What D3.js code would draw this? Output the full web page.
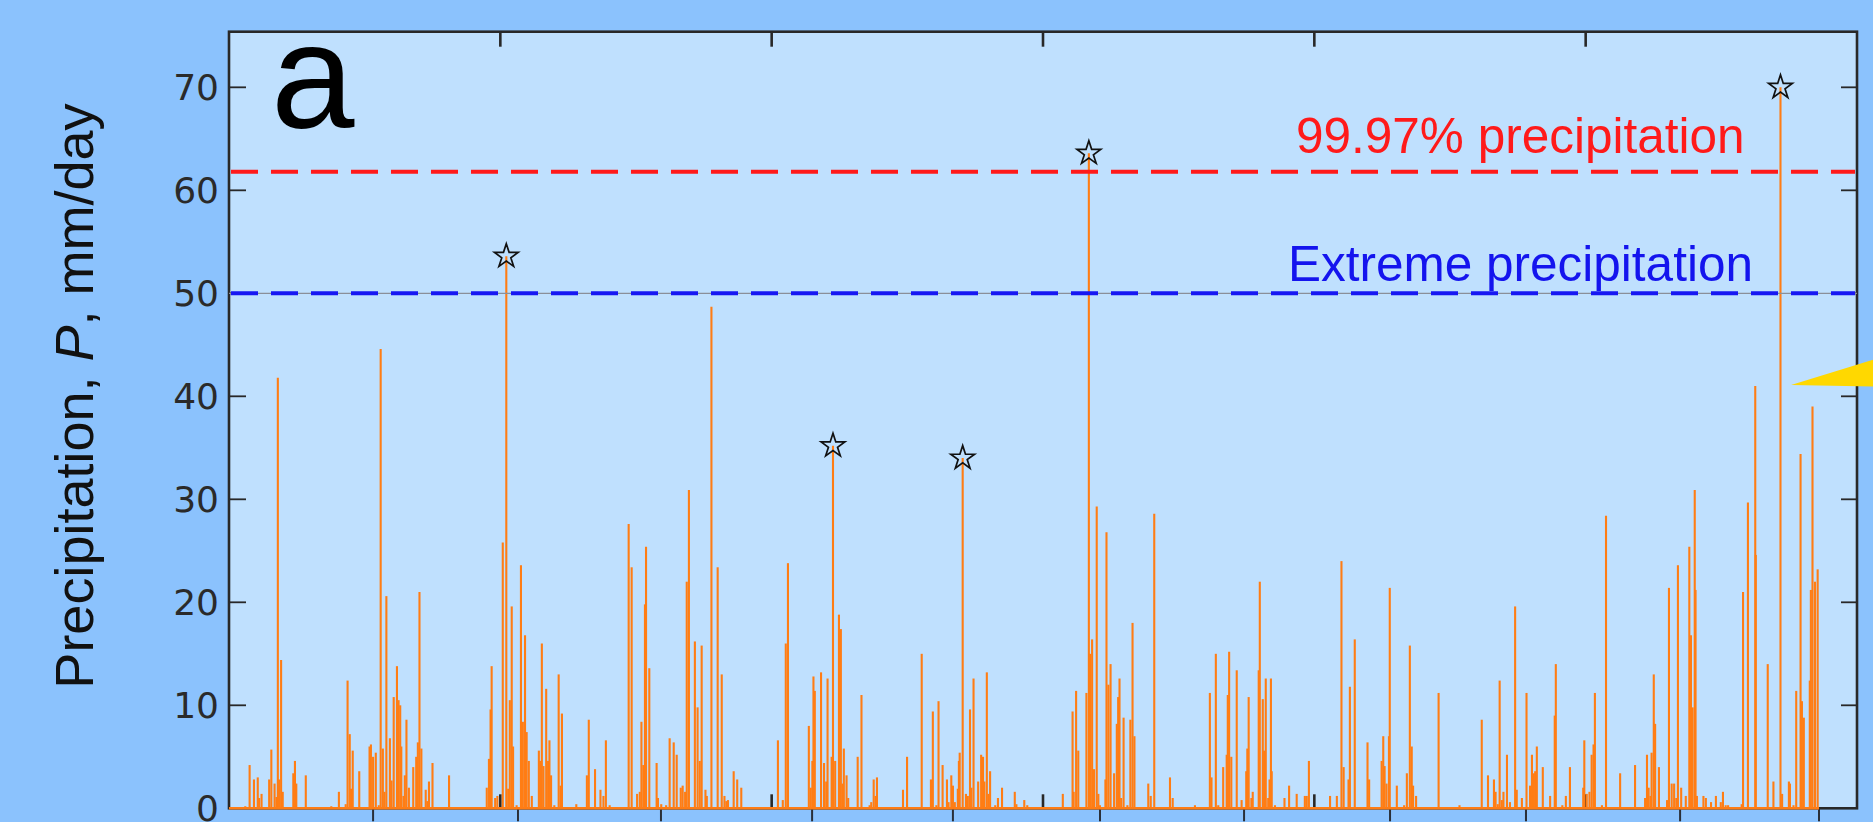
<!DOCTYPE html>
<html>
<head>
<meta charset="utf-8">
<script src="https://cdn.jsdelivr.net/npm/d3@7"></script>
<style>
  html, body { margin: 0; padding: 0; background: #8bc2fd; overflow: hidden; }
  svg { display: block; }
</style>
</head>
<body>
<svg id="chart" width="1873" height="822"></svg>
<script>
// ---- data -----------------------------------------------------------------
// y-axis ticks (mm/day)
const yTicks = [0, 10, 20, 30, 40, 50, 60, 70];
// evenly spaced ticks on the top/bottom frame (time-step units)
const frameTicks = [100, 200, 300, 400, 500];
// calendar ticks below the time axis (time-step units)
const dateTicks = [53.1, 106.5, 159.2, 214.9, 266.8, 321.0, 374.1, 427.9, 478.0, 534.8, 586.0];
// thresholds (mm/day)
const extremeLevel = 50;
const percentileLevel = 61.8;
// record length in time-step units
const recordStart = 0;
const recordEnd = 586;
// events flagged with a star (time-step units)
const starredTimes = [102.2, 222.6, 270.4, 316.9, 571.8];

// precipitation events: [time step, P in mm/day]
const precipitation = [
  [6.0,0.2],[7.6,4.2],[9.2,2.8],[10.6,3.0],[11.1,1.0],[12.0,1.4],[14.8,2.8],[15.6,5.7],[16.8,2.4],[17.5,1.1],
  [18.0,41.8],[18.4,2.8],[19.2,14.4],[19.8,1.6],[23.7,3.4],[24.3,4.6],[24.8,2.4],[28.3,3.2],[37.7,0.2],[40.5,1.6],
  [43.0,0.4],[43.7,12.4],[44.5,7.2],[45.0,1.9],[45.6,5.6],[48.0,3.6],[51.8,6.0],[52.3,6.2],[53.1,5.0],[54.1,5.4],
  [55.2,0.3],[55.9,44.6],[56.7,5.8],[57.3,1.6],[58.0,20.6],[59.3,6.8],[59.9,2.7],[60.7,10.8],[61.9,13.8],[62.5,10.5],
  [63.1,10.0],[63.5,6.0],[64.3,1.2],[64.8,3.2],[65.4,8.6],[66.3,2.0],[67.9,4.0],[69.0,5.0],[69.6,6.4],[70.2,21.0],
  [70.9,5.8],[72.5,1.8],[73.1,0.7],[73.7,2.6],[75.0,4.4],[81.1,3.2],[95.0,2.0],[95.8,4.8],[96.4,9.6],[96.8,13.8],
  [98.1,1.0],[98.9,1.2],[100.9,25.8],[102.2,53.6],[102.9,1.9],[103.5,10.5],[104.2,19.6],[104.7,6.0],[106.0,0.3],[107.6,23.6],
  [108.3,8.4],[109.1,16.8],[109.7,7.4],[110.5,4.6],[111.6,1.2],[114.2,5.6],[114.7,4.6],[115.3,16.0],[115.9,4.1],[116.9,11.6],
  [117.6,4.6],[118.1,6.6],[118.7,3.2],[119.9,0.3],[121.5,13.0],[122.2,2.2],[122.7,9.2],[128.0,0.4],[131.9,3.2],[132.6,8.6],
  [134.9,3.8],[136.9,1.8],[138.0,1.2],[138.9,6.6],[140.3,0.3],[147.3,27.6],[148.4,23.4],[150.4,1.4],[151.4,1.6],[152.0,8.4],
  [152.7,4.2],[153.3,19.8],[153.7,25.4],[154.9,13.6],[157.6,4.4],[158.1,1.0],[159.3,0.4],[161.1,0.3],[162.4,6.8],[163.9,6.4],
  [165.0,5.2],[166.5,2.0],[167.2,2.2],[168.1,1.6],[168.7,22.0],[169.5,30.9],[171.7,16.2],[172.7,9.8],[173.5,4.6],[174.2,15.8],
  [175.6,1.8],[176.1,1.2],[177.8,48.7],[180.1,23.4],[181.6,13.0],[182.6,1.2],[183.3,0.7],[183.9,0.8],[186.0,3.6],[187.3,2.8],
  [188.8,2.0],
  [202.3,6.6],[204.1,0.8],[205.2,16.0],[206.0,23.8],[213.7,8.0],[214.4,2.0],[215.0,4.6],[215.4,12.8],[215.9,11.4],[218.2,13.2],
  [219.3,4.4],[220.1,2.6],[220.6,12.6],[222.1,5.0],[222.6,35.2],[223.4,4.6],[224.8,18.8],[225.5,17.4],[226.1,2.4],[226.6,5.8],
  [227.6,3.2],[228.2,1.0],[231.7,5.0],[233.1,11.0],[236.1,0.3],[236.7,0.6],[237.6,2.8],[238.3,1.2],[238.8,3.0],[248.4,1.8],
  [249.9,5.0],[255.3,15.0],[258.7,2.8],[259.4,9.4],[260.7,0.3],[261.5,10.4],[263.0,4.2],[264.6,2.8],[265.2,0.6],[266.2,3.2],
  [266.8,2.2],[267.5,0.6],[268.6,1.9],[269.0,4.6],[269.3,5.4],[270.4,34.0],[271.6,1.4],[272.3,1.2],[273.1,9.6],[273.6,2.0],
  [274.4,12.6],[276.1,2.6],[277.2,5.2],[277.9,5.0],[278.4,2.6],[279.3,13.2],[279.9,1.4],[280.5,3.6],[282.4,0.3],[283.4,1.0],
  [284.9,2.0],[289.6,1.6],[290.2,0.4],[293.1,0.8],[294.2,0.3],[307.3,1.4],[310.9,9.4],[311.3,1.6],[312.2,11.4],[313.0,5.6],
  [316.0,11.2],[316.9,63.6],[317.3,15.0],[318.1,16.4],[318.8,3.8],[319.8,29.3],[320.4,1.4],[321.0,0.3],[323.0,2.8],[323.4,26.8],
  [324.1,12.0],[324.9,14.0],[326.2,3.4],[327.2,8.2],[327.7,10.8],[328.2,12.6],[328.8,1.0],[329.7,8.8],[331.1,0.3],[332.2,8.6],
  [333.0,18.0],[333.7,7.0],[338.8,2.4],[339.7,1.2],[341.0,28.6],[346.8,3.0],[347.8,1.0],[356.0,0.3],[361.5,11.2],[362.1,3.0],
  [363.7,15.0],[364.6,0.3],[366.4,4.0],[367.7,5.2],[368.1,11.0],[368.6,15.2],[369.4,5.0],[371.4,13.4],[373.2,0.8],[374.9,3.6],
  [375.3,5.8],[375.8,10.8],[376.8,1.0],[377.3,1.6],[379.5,13.4],[379.9,22.0],[381.0,10.6],[381.5,5.6],[382.1,12.6],[383.0,1.0],
  [383.5,2.8],[384.0,12.6],[384.3,3.6],[385.5,0.3],
  [389.0,1.0],[390.7,2.2],[393.5,1.4],[396.5,1.2],[397.2,1.2],[398.0,4.6],[405.8,1.2],[408.3,1.2],[410.0,24.0],[410.8,4.0],
  [412.6,2.8],[413.1,11.8],[414.9,16.4],[419.6,6.4],[420.2,2.8],[424.8,4.6],[425.4,7.0],[425.9,4.1],[426.6,2.4],[427.5,7.0],
  [427.8,21.4],[430.4,2.2],[433.1,0.3],[434.1,3.4],[435.2,15.8],[435.9,6.0],[436.4,2.2],[437.5,1.2],[445.8,11.2],[453.5,0.3],
  [461.7,8.6],[464.0,3.2],[466.2,2.8],[466.8,1.6],[467.6,0.4],[468.3,12.4],[469.1,0.8],[469.7,1.6],[471.0,5.2],[472.1,0.6],
  [474.0,19.6],[474.6,1.8],[476.5,1.0],[478.2,11.2],[479.5,2.2],[480.2,5.2],[480.9,3.4],[481.4,3.6],[482.0,6.0],[484.2,4.0],
  [486.9,1.2],[488.6,9.0],[489.0,14.0],[491.4,0.3],[492.7,1.2],[494.2,4.0],[499.1,2.0],[499.5,6.6],[500.4,1.4],[501.4,1.6],
  [502.2,5.2],[502.9,6.2],[503.4,11.2],[506.0,0.3],[507.5,28.4],[512.7,3.4],[518.2,4.2],[521.9,1.0],[522.6,5.2],[523.2,2.0],
  [523.9,1.2],[524.3,5.4],[525.1,13.0],[525.6,8.2],[527.0,4.0],[530.0,0.8],[530.7,21.4],[531.7,2.4],[532.6,2.4],[533.4,1.0],
  [534.0,23.6],[535.2,2.0],[536.9,1.2],[538.2,25.4],[538.8,16.8],[539.4,9.8],[540.2,30.9],[540.5,21.2],[541.0,1.2],[543.4,1.2],
  [544.3,1.0],[546.2,0.6],[548.0,1.2],[549.8,0.6],[550.6,1.6],[551.6,0.3],[552.5,0.3],[557.5,0.4],[558.0,21.0],[559.8,29.7],
  [562.5,41.0],[562.7,24.6],[567.1,14.0],[569.2,2.6],[571.8,70.0],[572.4,1.4],[574.9,2.6],[575.3,2.4],[576.6,0.3],[577.6,11.4],
  [579.2,34.4],[579.7,10.4],[580.4,8.8],[582.6,12.4],[583.0,21.2],[583.6,39.0],[584.5,22.0],[585.5,23.2]
];

// ---- layout ---------------------------------------------------------------
const W = 1873, H = 822;
const box = { left: 229, top: 31.7, right: 1857, bottom: 808.3 };

const x = d3.scaleLinear().domain([0, 600]).range([box.left, box.right]);
const y = d3.scaleLinear().domain([0, 75.4]).range([box.bottom, box.top]);

const svg = d3.select("#chart");
const ink = "#282828";
const orange = "#ff7d14";

// page and axes backgrounds
svg.append("rect").attr("width", W).attr("height", H).attr("fill", "#8bc2fd");
svg.append("rect")
  .attr("x", box.left).attr("y", box.top)
  .attr("width", box.right - box.left).attr("height", box.bottom - box.top)
  .attr("fill", "#bfe0fe");

// frame
svg.append("rect")
  .attr("x", box.left).attr("y", box.top)
  .attr("width", box.right - box.left).attr("height", box.bottom - box.top)
  .attr("fill", "none").attr("stroke", ink).attr("stroke-width", 2.6);

// inward frame ticks, top and bottom
const frameG = svg.append("g").attr("stroke", ink).attr("stroke-width", 2.6);
frameG.selectAll(".tt").data(frameTicks).join("line")
  .attr("x1", d => x(d)).attr("x2", d => x(d))
  .attr("y1", box.top).attr("y2", box.top + 15);
frameG.selectAll(".tb").data(frameTicks).join("line")
  .attr("x1", d => x(d)).attr("x2", d => x(d))
  .attr("y1", box.bottom).attr("y2", box.bottom - 14);

// inward y ticks, left and right
const yTickG = svg.append("g").attr("stroke", ink).attr("stroke-width", 1.8);
yTickG.selectAll(".yl").data(yTicks.slice(1)).join("line")
  .attr("x1", box.left).attr("x2", box.left + 17)
  .attr("y1", d => y(d)).attr("y2", d => y(d));
yTickG.selectAll(".yr").data(yTicks.slice(1)).join("line")
  .attr("x1", box.right).attr("x2", box.right - 16)
  .attr("y1", d => y(d)).attr("y2", d => y(d));

// outward calendar ticks below the axis
svg.append("g").attr("stroke", "#2a2f38").attr("stroke-width", 2)
  .selectAll("line").data(dateTicks).join("line")
  .attr("x1", d => x(d)).attr("x2", d => x(d))
  .attr("y1", box.bottom).attr("y2", box.bottom + 13);

// y tick labels
svg.append("g")
  .attr("font-family", "'DejaVu Sans', sans-serif")
  .attr("font-size", 36).attr("fill", "#2a2a2a").attr("text-anchor", "end")
  .selectAll("text").data(yTicks).join("text")
  .attr("x", box.left - 10).attr("y", d => y(d)).attr("dy", "0.36em")
  .text(d => d);

// y axis title
const title = svg.append("text")
  .attr("transform", `translate(93, 396) rotate(-90)`)
  .attr("text-anchor", "middle")
  .attr("font-family", "'Liberation Sans', Arial, sans-serif")
  .attr("font-size", 54).attr("fill", "#111");
title.append("tspan").text("Precipitation, ");
title.append("tspan").attr("font-style", "italic").text("P");
title.append("tspan").text(", mm/day");

// precipitation series: zero baseline and daily stems
svg.append("line")
  .attr("x1", x(recordStart)).attr("x2", x(recordEnd))
  .attr("y1", y(0)).attr("y2", y(0))
  .attr("stroke", orange).attr("stroke-width", 2.6);
svg.append("g").attr("stroke", orange).attr("stroke-width", 2.1)
  .selectAll("line").data(precipitation).join("line")
  .attr("x1", d => x(d[0])).attr("x2", d => x(d[0]))
  .attr("y1", y(0)).attr("y2", d => y(d[1]));

// threshold lines
svg.append("line")
  .attr("x1", box.left).attr("x2", box.right)
  .attr("y1", y(extremeLevel)).attr("y2", y(extremeLevel))
  .attr("stroke", "#8a8f99").attr("stroke-width", 1.2);
svg.append("line")
  .attr("x1", box.left + 2).attr("x2", box.right - 2)
  .attr("y1", y(extremeLevel)).attr("y2", y(extremeLevel))
  .attr("stroke", "#1717f2").attr("stroke-width", 4)
  .attr("stroke-dasharray", "27 13");
svg.append("line")
  .attr("x1", box.left + 2).attr("x2", box.right - 2)
  .attr("y1", y(percentileLevel)).attr("y2", y(percentileLevel))
  .attr("stroke", "#ff1a1a").attr("stroke-width", 4)
  .attr("stroke-dasharray", "27 13");

// starred events
const starred = precipitation.filter(d => starredTimes.includes(d[0]));
svg.append("g").selectAll("path").data(starred).join("path")
  .attr("transform", d => `translate(${x(d[0])},${y(d[1])})`)
  .attr("d", d3.symbol(d3.symbolStar, 175))
  .attr("fill", "none").attr("stroke", "#111").attr("stroke-width", 1.7);

// threshold labels
svg.append("text")
  .attr("x", 1296).attr("y", 153)
  .attr("font-family", "'Liberation Sans', Arial, sans-serif")
  .attr("font-size", 49.5).attr("fill", "#ff1a1a")
  .text("99.97% precipitation");
svg.append("text")
  .attr("x", 1288).attr("y", 281)
  .attr("font-family", "'Liberation Sans', Arial, sans-serif")
  .attr("font-size", 49.5).attr("fill", "#1414ee")
  .text("Extreme precipitation");

// panel letter
svg.append("text")
  .attr("x", 271).attr("y", 128)
  .attr("font-family", "'Liberation Sans', Arial, sans-serif")
  .attr("font-size", 150).attr("fill", "#000")
  .text("a");

// pointer wedge at the right edge
const wedge = [[575.7, 41.1], [606.5, 43.6], [606.5, 40.95]];
svg.append("path")
  .attr("d", d3.line().x(d => x(d[0])).y(d => y(d[1])).curve(d3.curveLinearClosed)(wedge))
  .attr("fill", "#ffd800");
</script>
</body>
</html>
